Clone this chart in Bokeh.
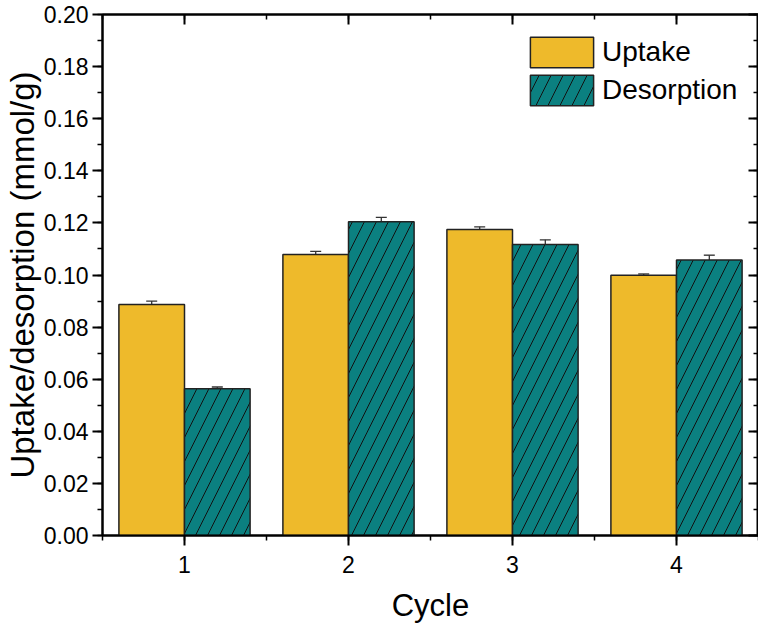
from bokeh.plotting import figure
from bokeh.models import (LinearAxis, SingleIntervalTicker, Whisker, TeeHead,
                          ColumnDataSource, Legend, LegendItem, Range1d,
                          NumeralTickFormatter, CustomJSTickFormatter)
from bokeh.embed import file_html
from bokeh.resources import INLINE

# ---- data ----
cycles = [1, 2, 3, 4]
uptake = [0.0887, 0.1079, 0.1175, 0.0999]
uptake_err = [0.0013, 0.0012, 0.0010, 0.0005]
desorption = [0.0563, 0.1204, 0.1117, 0.1058]
desorption_err = [0.0007, 0.0017, 0.0018, 0.0018]
series_labels = ["Uptake", "Desorption"]
x_title = "Cycle"
y_title = "Uptake/desorption (mmol/g)"

UP_COLOR = "#EEBA2B"
DE_COLOR = "#0B8080"
FONT = "Liberation Sans"
bar_w = 0.4

up_src = ColumnDataSource(dict(
    x=[c - bar_w / 2 for c in cycles], top=uptake,
    upper=[v + e for v, e in zip(uptake, uptake_err)],
    lower=[v - e for v, e in zip(uptake, uptake_err)]))
de_src = ColumnDataSource(dict(
    x=[c + bar_w / 2 for c in cycles], top=desorption,
    upper=[v + e for v, e in zip(desorption, desorption_err)],
    lower=[v - e for v, e in zip(desorption, desorption_err)]))

p = figure(width=758, height=625, x_range=Range1d(0.5, 4.5), y_range=Range1d(0, 0.20),
           output_backend="svg", toolbar_location=None,
           min_border_left=10, min_border_top=14, min_border_right=0, min_border_bottom=10)
p.xgrid.visible = False
p.ygrid.visible = False
p.outline_line_color = "black"
p.outline_line_width = 2
p.background_fill_color = "white"
p.border_fill_color = "white"

r_up = p.vbar(x="x", top="top", width=bar_w, bottom=0, source=up_src,
              fill_color=UP_COLOR, line_color="#222222", line_width=1.5)
r_de = p.vbar(x="x", top="top", width=bar_w, bottom=0, source=de_src,
              fill_color=DE_COLOR, line_color="#222222", line_width=1.5,
              hatch_pattern="/", hatch_color="#111111", hatch_weight=1, hatch_scale=24)

for src in (up_src, de_src):
    p.add_layout(Whisker(base="x", upper="upper", lower="lower", source=src,
                         line_color="#333333", line_width=1.3,
                         upper_head=TeeHead(size=11, line_color="#333333", line_width=1.3),
                         lower_head=TeeHead(size=11, line_color="#333333", line_width=1.3)))

xt = SingleIntervalTicker(interval=1, num_minor_ticks=2)
yt = SingleIntervalTicker(interval=0.02, num_minor_ticks=2)

def style_main(ax, title, title_size):
    ax.axis_label = title
    ax.axis_label_text_font = FONT
    ax.axis_label_text_font_size = title_size
    ax.axis_label_text_font_style = "normal"
    ax.axis_label_text_color = "black"
    ax.major_label_text_font = FONT
    ax.major_label_text_font_size = "23px"
    ax.major_label_text_color = "black"
    ax.axis_line_width = 2
    ax.axis_line_color = "black"
    ax.major_tick_line_width = 2
    ax.minor_tick_line_width = 1.5
    ax.major_tick_out = 10
    ax.major_tick_in = 0
    ax.minor_tick_out = 5
    ax.minor_tick_in = 0

xa = p.xaxis[0]
xa.ticker = xt
style_main(xa, x_title, "31px")
xa.major_label_standoff = 10
xa.axis_label_standoff = 12

ya = p.yaxis[0]
ya.ticker = yt
ya.formatter = NumeralTickFormatter(format="0.00")
style_main(ya, y_title, "33px")
ya.major_label_standoff = 4
ya.axis_label_standoff = 0

def mirror(ticker, where):
    ax = LinearAxis(ticker=ticker, axis_label=None,
                    formatter=CustomJSTickFormatter(code="return ''"))
    ax.major_label_text_font_size = "0px"
    ax.major_label_standoff = 0
    ax.axis_line_width = 2
    ax.major_tick_line_width = 2
    ax.minor_tick_line_width = 1.5
    ax.major_tick_in = 10
    ax.major_tick_out = 0
    ax.minor_tick_in = 5
    ax.minor_tick_out = 0
    p.add_layout(ax, where)

mirror(SingleIntervalTicker(interval=1, num_minor_ticks=2), "above")
mirror(SingleIntervalTicker(interval=0.02, num_minor_ticks=2), "right")

legend = Legend(items=[LegendItem(label=series_labels[0], renderers=[r_up]),
                       LegendItem(label=series_labels[1], renderers=[r_de])],
                location=(420, 426), orientation="vertical",
                glyph_width=79, glyph_height=38, spacing=-3, padding=0, margin=0,
                label_standoff=1, border_line_color=None, background_fill_alpha=0,
                label_text_font=FONT, label_text_font_size="28px",
                label_text_color="black")
p.add_layout(legend, "center")

open("out.html", "w").write(file_html(p, INLINE))
